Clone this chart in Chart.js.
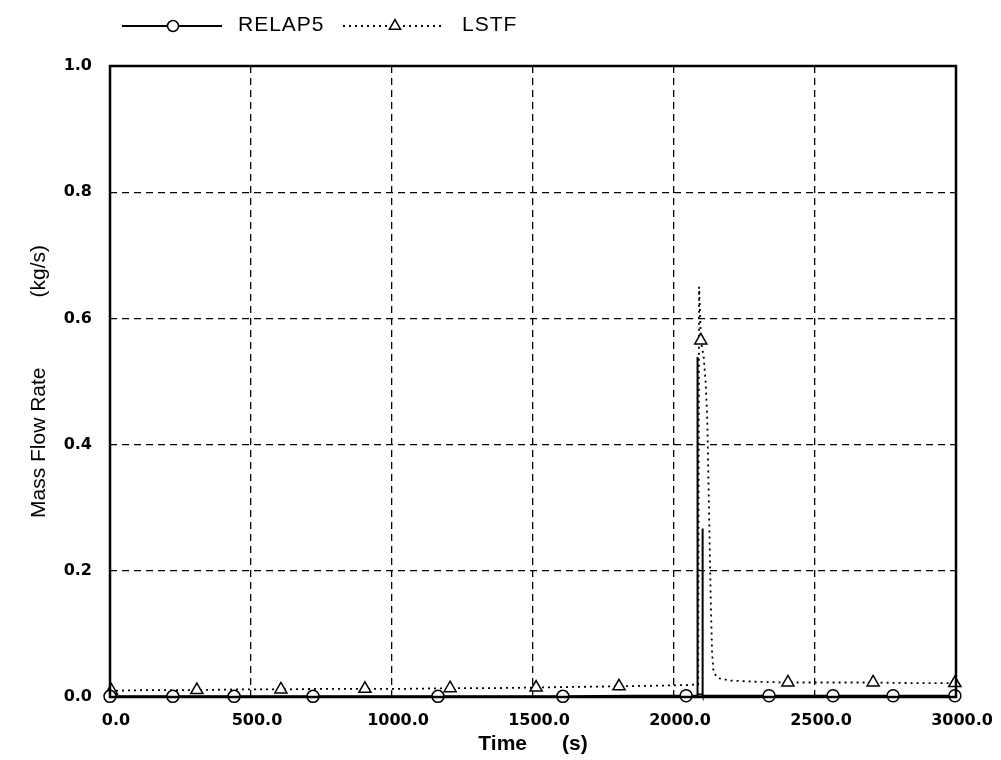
<!DOCTYPE html>
<html>
<head>
<meta charset="utf-8">
<script src="https://cdn.jsdelivr.net/npm/chart.js@4.4.1/dist/chart.umd.min.js"></script>
<style>
  html, body { margin: 0; padding: 0; background: #ffffff; }
  #wrap { width: 1001px; height: 760px; position: relative; }
</style>
</head>
<body>
<div id="wrap"><canvas id="c" width="1001" height="760"></canvas></div>
<script>
// RELAP5 calculation: time (s) and mass flow rate (kg/s)
const relapTime = [0, 223, 440, 720, 1000, 1163, 1400, 1606, 1850, 2043, 2082, 2083, 2084, 2100, 2101, 2102, 2200, 2337, 2564, 2777, 2996, 3000];
const relapFlow = [0.001, 0.001, 0.001, 0.001, 0.001, 0.001, 0.001, 0.001, 0.002, 0.002, 0.002, 0.539, 0.004, 0.004, 0.267, 0.002, 0.002, 0.002, 0.002, 0.002, 0.002, 0.002];
const relapMarks = [0, 223, 440, 720, 1163, 1606, 2043, 2337, 2564, 2777, 2996];

// LSTF measurement: time (s) and mass flow rate (kg/s)
const lstfTime = [0, 5, 150, 308, 450, 606, 750, 904, 1050, 1206, 1350, 1511, 1650, 1805, 1950, 2050, 2086, 2089, 2093, 2095, 2105, 2112, 2118, 2124, 2130, 2135, 2140, 2155, 2200, 2300, 2404, 2550, 2706, 2850, 2996, 3000];
const lstfFlow = [0.010, 0.010, 0.011, 0.011, 0.012, 0.012, 0.013, 0.013, 0.013, 0.014, 0.014, 0.015, 0.016, 0.017, 0.018, 0.019, 0.020, 0.650, 0.600, 0.565, 0.540, 0.500, 0.440, 0.300, 0.160, 0.070, 0.040, 0.030, 0.026, 0.024, 0.023, 0.023, 0.023, 0.022, 0.022, 0.022];
const lstfMarks = [5, 308, 606, 904, 1206, 1511, 1805, 2095, 2404, 2706, 2996];

// Axis ranges and tick steps
const timeRange = [0, 3000];
const timeStep = 500;
const flowRange = [0, 1.0];
const flowStep = 0.2;

const seriesNames = ['RELAP5', 'LSTF'];

const toPoints = (t, v) => t.map((x, i) => ({ x: x, y: v[i] }));
const markerSizes = (t, marks, r) => t.map(x => (marks.includes(x) ? r : 0));

const tickFont = { family: 'DejaVu Sans', size: 16, weight: 'bold' };

// Thick frame around the plotting area, drawn over the data
const framePlugin = {
  id: 'frame',
  afterDatasetsDraw(chart) {
    const { ctx, chartArea: a } = chart;
    ctx.save();
    ctx.strokeStyle = '#000';
    ctx.lineWidth = 2.5;
    ctx.setLineDash([]);
    ctx.strokeRect(a.left, a.top, a.right - a.left, a.bottom - a.top);
    ctx.restore();
  }
};

// Legend row above the plot: line sample with hollow marker, then series name
const keyPlugin = {
  id: 'keyRow',
  afterDraw(chart) {
    const { ctx } = chart;
    const y = 26;
    const items = [
      { x0: 122, x1: 222, mx: 173, text: 238, ds: chart.data.datasets[0] },
      { x0: 343, x1: 443, mx: 395, text: 462, ds: chart.data.datasets[1] }
    ];
    ctx.save();
    items.forEach(it => {
      const ds = it.ds;
      ctx.strokeStyle = '#000';
      ctx.lineWidth = ds.borderWidth;
      ctx.setLineDash(ds.borderDash || []);
      ctx.beginPath();
      ctx.moveTo(it.x0, y);
      ctx.lineTo(it.x1, y);
      ctx.stroke();
      ctx.setLineDash([]);
      ctx.fillStyle = '#fff';
      ctx.strokeStyle = '#000';
      ctx.lineWidth = 1.5;
      Chart.helpers.drawPoint(ctx, {
        pointStyle: ds.pointStyle,
        radius: ds.pointStyle === 'circle' ? 5.5 : 6.5,
        borderWidth: 1.5,
        rotation: 0
      }, it.mx, y);
      ctx.fillStyle = '#000';
      ctx.font = '21px "Liberation Sans", Arial, sans-serif';
      ctx.textBaseline = 'middle';
      ctx.textAlign = 'left';
      ctx.letterSpacing = '1px';
      ctx.fillText(ds.label, it.text, y - 1);
    });
    ctx.restore();
  }
};

const edgeHidden = (min, max) => (c) => {
  const v = c.tick ? c.tick.value : null;
  return (v === min || v === max) ? 'rgba(0,0,0,0)' : '#000';
};

new Chart(document.getElementById('c'), {
  type: 'line',
  data: {
    datasets: [
      {
        label: seriesNames[0],
        data: toPoints(relapTime, relapFlow),
        borderColor: '#000',
        borderWidth: 2,
        pointStyle: 'circle',
        pointRadius: markerSizes(relapTime, relapMarks, 6),
        pointHoverRadius: 0,
        pointBorderColor: '#000',
        pointBackgroundColor: '#fff',
        pointBorderWidth: 1.5,
        tension: 0,
        clip: false
      },
      {
        label: seriesNames[1],
        data: toPoints(lstfTime, lstfFlow),
        borderColor: '#000',
        borderWidth: 1.8,
        borderDash: [2, 4],
        borderCapStyle: 'butt',
        pointStyle: 'triangle',
        pointRadius: markerSizes(lstfTime, lstfMarks, 7),
        pointHoverRadius: 0,
        pointBorderColor: '#000',
        pointBackgroundColor: '#fff',
        pointBorderWidth: 1.5,
        tension: 0,
        clip: false
      }
    ]
  },
  options: {
    responsive: false,
    animation: false,
    devicePixelRatio: 1,
    layout: { padding: { top: 66, right: 45, left: 0, bottom: 0 } },
    plugins: {
      legend: { display: false },
      tooltip: { enabled: false }
    },
    scales: {
      x: {
        type: 'linear',
        min: timeRange[0],
        max: timeRange[1],
        afterFit(s) { s.height = 63; },
        ticks: {
          stepSize: timeStep,
          color: '#000',
          font: tickFont,
          padding: 14,
          labelOffset: 6,
          maxRotation: 0,
          callback: v => v.toFixed(1)
        },
        grid: {
          color: edgeHidden(timeRange[0], timeRange[1]),
          lineWidth: 1.3,
          drawTicks: false
        },
        border: { display: false, dash: [7, 5] },
        title: {
          display: true,
          text: 'Time\u00A0\u00A0\u00A0\u00A0\u00A0\u00A0(s)',
          color: '#000',
          font: { family: 'Liberation Sans', size: 21, weight: 'bold' },
          padding: { top: 0, bottom: 3 }
        }
      },
      y: {
        type: 'linear',
        min: flowRange[0],
        max: flowRange[1],
        afterFit(s) { s.width = 110; },
        ticks: {
          stepSize: flowStep,
          color: '#000',
          font: tickFont,
          padding: 18,
          callback: v => v.toFixed(1)
        },
        grid: {
          color: edgeHidden(flowRange[0], flowRange[1]),
          lineWidth: 1.3,
          drawTicks: false
        },
        border: { display: false, dash: [7, 5] },
        title: {
          display: true,
          text: 'Mass Flow Rate\u00A0\u00A0\u00A0\u00A0\u00A0\u00A0\u00A0\u00A0\u00A0\u00A0\u00A0\u00A0(kg/s)',
          color: '#000',
          font: { family: 'Liberation Sans', size: 21 },
          padding: { top: 27, bottom: 0 }
        }
      }
    }
  },
  plugins: [framePlugin, keyPlugin]
});
</script>
</body>
</html>
